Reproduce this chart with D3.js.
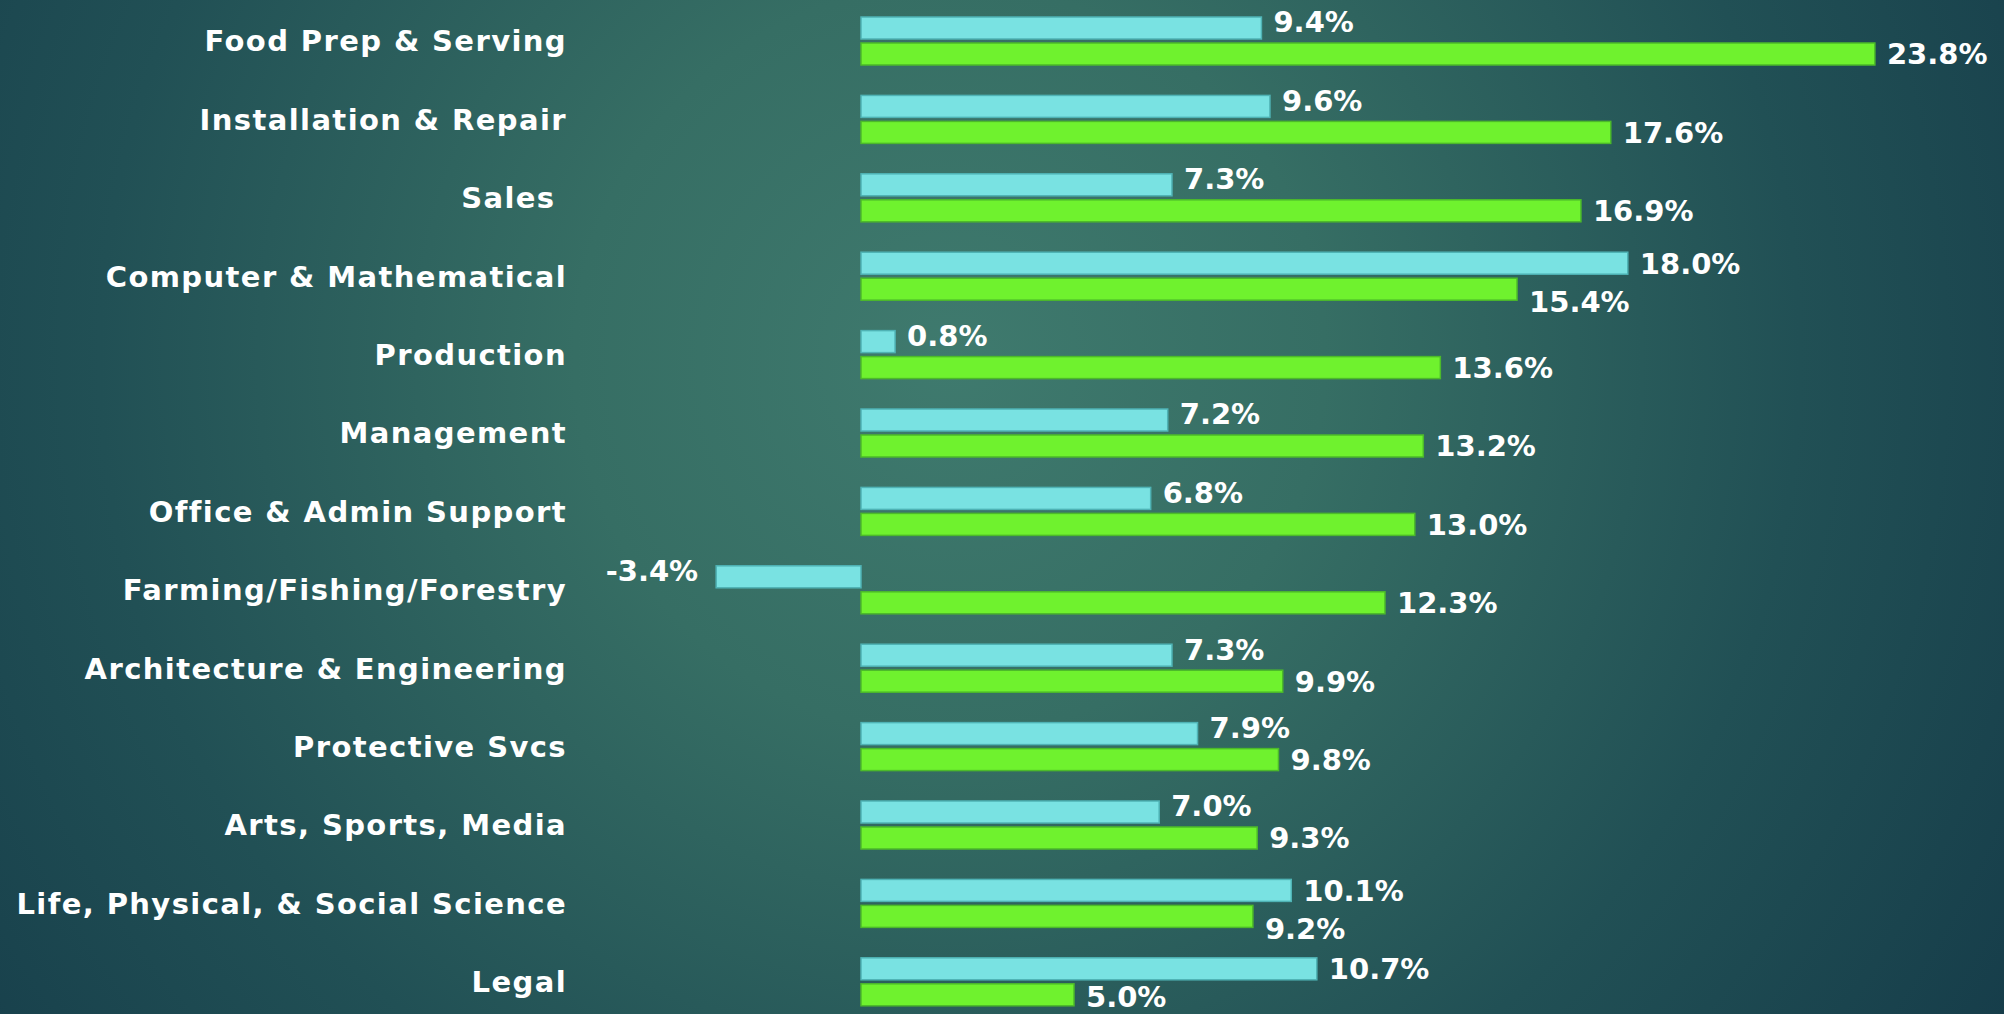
<!DOCTYPE html>
<html>
<head>
<meta charset="utf-8">
<script src="https://cdn.jsdelivr.net/npm/d3@7"></script>
<style>
  html, body { margin: 0; padding: 0; overflow: hidden; background: #1d4a50; }
  svg { display: block; }
  text { font-family: "DejaVu Sans", sans-serif; font-weight: bold; fill: #ffffff; white-space: pre; }
</style>
</head>
<body>
<svg id="chart"></svg>
<script>
// Occupation groups, top to bottom
const categories = [
    'Food Prep & Serving',
    'Installation & Repair',
    'Sales ',
    'Computer & Mathematical',
    'Production',
    'Management',
    'Office & Admin Support',
    'Farming/Fishing/Forestry',
    'Architecture & Engineering',
    'Protective Svcs',
    'Arts, Sports, Media',
    'Life, Physical, & Social Science',
    'Legal',
];
// first series (cyan bars) and second series (green bars), in percent
const seriesA = [9.4, 9.6, 7.3, 18.0, 0.8, 7.2, 6.8, -3.4, 7.3, 7.9, 7.0, 10.1, 10.7];
const seriesB = [23.8, 17.6, 16.9, 15.4, 13.6, 13.2, 13.0, 12.3, 9.9, 9.8, 9.3, 9.2, 5.0];

const W = 2004, H = 1014;
const fontSize = 29;
const capH = fontSize * 0.73;

const svg = d3.select('#chart').attr('width', W).attr('height', H);

// Background gradient
let defs = svg.append('defs');
let grad = defs.append('radialGradient')
    .attr('id', 'bg')
    .attr('gradientUnits', 'userSpaceOnUse')
    .attr('cx', 950).attr('cy', 360).attr('r', 1250);
grad.append('stop').attr('offset', '0').attr('stop-color', '#3f7a6e');
grad.append('stop').attr('offset', '0.3').attr('stop-color', '#366e64');
grad.append('stop').attr('offset', '0.68').attr('stop-color', '#215055');
grad.append('stop').attr('offset', '1').attr('stop-color', '#163d4a');
svg.append('rect').attr('width', W).attr('height', H).attr('fill', 'url(#bg)');

let rows = categories.map((c, i) => ({ cat: c, a: seriesA[i], b: seriesB[i] }));

var x = d3.scaleLinear()
    .domain([-5, 25])
    .range([648, 1926]);

var y = d3.scaleBand()
    .domain(categories)
    .range([1.8, 1.8 + 13 * 78.4])
    .paddingInner(0.388)
    .paddingOuter(0.194);

var ySub = d3.scaleBand()
    .domain(['a', 'b'])
    .range([0, y.bandwidth()])
    .paddingInner(0.154);

const colors = { a: '#79e2e2', b: '#6ff22e' };
const strokes = { a: '#4fb3b5', b: '#4cba2a' };

let fmt = (v) => v.toFixed(1) + '%';

// Category labels
svg.append('g')
    .selectAll('text')
    .data(rows)
    .enter()
    .append('text')
    .attr('x', 567)
    .attr('y', (d) => y(d.cat) + y.bandwidth() / 2)
    .attr('dy', '0.36em')
    .attr('text-anchor', 'end')
    .style('font-size', fontSize + 'px')
    .style('letter-spacing', '1.4px')
    .text((d) => d.cat);

let groups = svg.append('g')
    .selectAll('g')
    .data(rows)
    .enter()
    .append('g')
    .attr('transform', (d) => `translate(0, ${y(d.cat)})`);

['a', 'b'].forEach((key) => {
    groups.append('rect')
        .attr('x', (d) => x(Math.min(0, d[key])))
        .attr('y', ySub(key))
        .attr('width', (d) => Math.abs(x(d[key]) - x(0)))
        .attr('height', ySub.bandwidth())
        .attr('fill', colors[key])
        .attr('stroke', strokes[key])
        .attr('stroke-width', 1.5);
});

// Value labels, nudged apart where they would run into the neighbouring bar
function labelY(d, key) {
    let center = y(d.cat) + ySub(key) + ySub.bandwidth() / 2;
    if (key === 'a' && d.b > d.a) center -= 6;
    if (key === 'b' && d.a > d.b) center += 12;
    center = Math.max(center, 9 + capH / 2);
    center = Math.min(center, 1007 - capH / 2);
    return center - y(d.cat);
}

['a', 'b'].forEach((key) => {
    groups.append('text')
        .attr('x', (d) => d[key] < 0 ? x(d[key]) - 18 : x(d[key]) + 12)
        .attr('y', (d) => labelY(d, key))
        .attr('dy', '0.36em')
        .attr('text-anchor', (d) => d[key] < 0 ? 'end' : 'start')
        .style('font-size', fontSize + 'px')
        .text((d) => fmt(d[key]));
});
</script>
</body>
</html>
